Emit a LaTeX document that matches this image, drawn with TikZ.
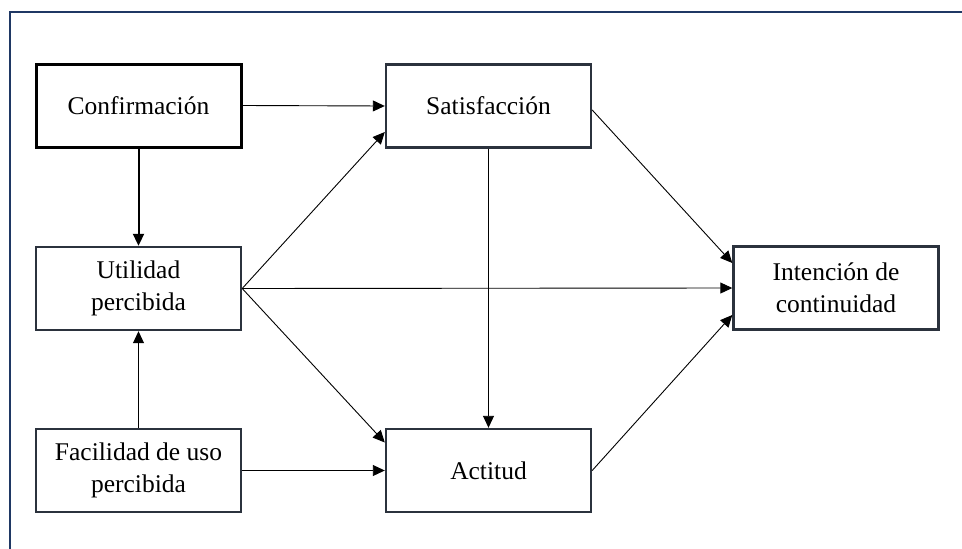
\documentclass[tikz,border=0pt]{standalone}
\usepackage{fontspec}
\setmainfont{Liberation Serif}
\usetikzlibrary{arrows.meta,calc}
\definecolor{framec}{HTML}{1F3864}
\definecolor{boxc}{HTML}{2B323D}
\tikzset{
  box/.style={draw=boxc, line width=2.4pt, fill=white, rectangle, minimum width=205pt, minimum height=83pt, inner sep=0pt, align=center, font=\fontsize{25.5}{32}\selectfont},
  boldbox/.style={box, draw=black, line width=3pt},
  arr/.style={-{Triangle[length=12pt,width=11pt]}, line width=0.9pt, draw=black},
  thickarr/.style={arr, line width=2pt}
}
\begin{document}
\begin{tikzpicture}[x=1pt,y=-1pt]
\useasboundingbox (0,0) rectangle (962,549);
\draw[framec, line width=2pt] (10,549) -- (10,12) -- (962,12);
\node[boldbox] (conf) at (138.5,105.5) {Confirmación};
\node[box] (util) at (138.5,288.5) {Utilidad\\percibida};
\node[box] (fac) at (138.5,470.5) {Facilidad de uso\\percibida};
\node[box] (sat) at (488.5,106) {Satisfacción};
\node[box] (act) at (488.5,470.5) {Actitud};
\node[box] (int) at (836,288) {Intención de\\continuidad};
\draw[arr] (conf.east) -- (sat.west);
\draw[thickarr] (conf.south) -- (util.north);
\draw[arr] (util.east) -- ($(sat.west)+(0,26)$);
\draw[arr] (util.east) -- (int.west);
\draw[arr] (util.east) -- ($(act.west)+(0,-28)$);
\draw[arr] (fac.north) -- (util.south);
\draw[arr] (fac.east) -- (act.west);
\draw[arr] (sat.south) -- (act.north);
\draw[arr] ($(sat.east)+(0,4)$) -- ($(int.west)+(0,-25)$);
\draw[arr] (act.east) -- ($(int.west)+(0,27)$);
\end{tikzpicture}
\end{document}
